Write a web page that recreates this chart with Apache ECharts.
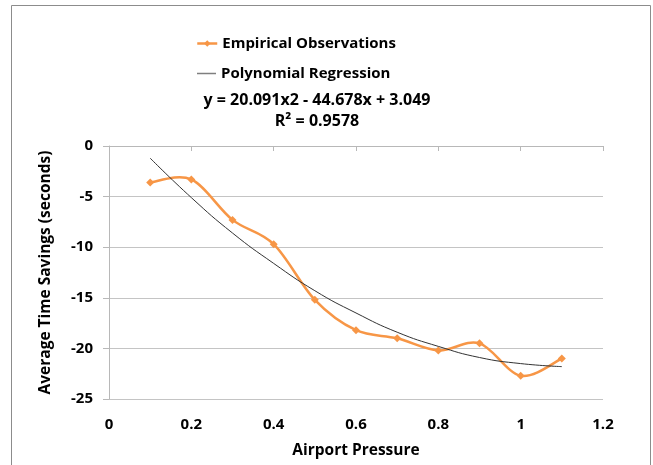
<!DOCTYPE html>
<html><head><meta charset="utf-8">
<script src="https://cdn.jsdelivr.net/npm/echarts@6/dist/echarts.min.js"></script>
<style>html,body{margin:0;padding:0;background:#fff}#c{width:653px;height:465px}</style>
</head><body><div id="c"></div>
<script>
const pressure = [0.1, 0.2, 0.3, 0.4, 0.5, 0.6, 0.7, 0.8, 0.9, 1.0, 1.1];
const observed = [-3.6, -3.3, -7.3, -9.7, -15.2, -18.2, -19.0, -20.2, -19.5, -22.7, -21.0];
const regression = [-1.2, -5.1, -8.6, -11.6, -14.3, -16.5, -18.4, -19.8, -20.9, -21.5, -21.8];
const xTicks = [0, 0.2, 0.4, 0.6, 0.8, 1, 1.2];
const yTicks = [0, -5, -10, -15, -20, -25];
const FONT = '"Open Sans", "Noto Sans", sans-serif';
const ORANGE = '#F79646';

function splinePath(pts) {
  let d = 'M' + pts[0][0] + ',' + pts[0][1];
  for (let i = 0; i < pts.length - 1; i++) {
    const p0 = pts[i - 1] || pts[i], p1 = pts[i], p2 = pts[i + 1], p3 = pts[i + 2] || pts[i + 1];
    const c1 = [p1[0] + (p2[0] - p0[0]) / 6, p1[1] + (p2[1] - p0[1]) / 6];
    const c2 = [p2[0] - (p3[0] - p1[0]) / 6, p2[1] - (p3[1] - p1[1]) / 6];
    d += 'C' + c1[0] + ',' + c1[1] + ' ' + c2[0] + ',' + c2[1] + ' ' + p2[0] + ',' + p2[1];
  }
  return d;
}

const legendText = {fontFamily: FONT, fontWeight: 'bold', fontSize: 15, color: '#000'};
const chart = echarts.init(document.getElementById('c'));
chart.setOption({
  animation: false,
  backgroundColor: '#fff',
  grid: {left: 109, right: 50, top: 146, bottom: 66, containLabel: false},
  legend: [{
    orient: 'vertical', left: 191, top: 31, itemWidth: 20, itemHeight: 8,
    textStyle: legendText,
    data: [{name: 'Empirical Observations', lineStyle: {opacity: 1, color: ORANGE, width: 2.5}}]
  }, {
    orient: 'vertical', left: 192, top: 61, itemWidth: 19, itemHeight: 1.5,
    textStyle: legendText,
    data: [{name: 'Polynomial Regression', icon: 'rect', itemStyle: {color: '#7f7f7f'}}]
  }],
  xAxis: [{
    type: 'value', min: 0, max: 1.2, interval: 0.2, position: 'bottom',
    axisLine: {show: false}, axisTick: {show: false}, splitLine: {show: false},
    axisLabel: {margin: 18, fontFamily: FONT, fontWeight: 'bold', fontSize: 15, color: '#000',
      formatter: v => { const i = xTicks.findIndex(t => Math.abs(t - v) < 1e-6); return i >= 0 ? String(xTicks[i]) : ''; }},
    name: 'Airport Pressure', nameLocation: 'middle', nameGap: 44,
    nameTextStyle: {fontFamily: FONT, fontWeight: 'bold', fontSize: 15.5, color: '#000'}
  }, {
    type: 'value', min: 0, max: 1.2, interval: 0.2, position: 'top',
    axisLine: {show: true, lineStyle: {color: '#b8b8b8', width: 1}},
    axisTick: {show: true, inside: true, length: 5, lineStyle: {color: '#b8b8b8'}},
    axisLabel: {show: false}, splitLine: {show: false}
  }],
  yAxis: {
    type: 'value', min: -25, max: 0, interval: 5,
    axisLine: {show: true, lineStyle: {color: '#b8b8b8', width: 1}},
    axisTick: {show: true, length: 6, lineStyle: {color: '#b8b8b8'}},
    splitLine: {show: true, lineStyle: {color: '#c4c4c4', width: 1}},
    axisLabel: {margin: 16, fontFamily: FONT, fontWeight: 'bold', fontSize: 15, color: '#000',
      formatter: v => { const i = yTicks.findIndex(t => Math.abs(t - v) < 1e-6); return i >= 0 ? String(yTicks[i]) : ''; }},
    name: 'Average Time Savings (seconds)', nameLocation: 'middle', nameGap: 55, nameRotate: 90,
    nameTextStyle: {fontFamily: FONT, fontWeight: 'bold', fontSize: 15.5, color: '#000'}
  },
  series: [{
    name: 'Empirical Curve', type: 'custom', xAxisIndex: 0, z: 2,
    data: pressure.map((x, i) => [x, observed[i]]),
    encode: {x: 0, y: 1},
    renderItem: (params, api) => {
      if (params.dataIndex !== 0) return null;
      const pts = pressure.map((x, i) => api.coord([x, observed[i]]));
      return {type: 'path', shape: {pathData: splinePath(pts)},
        style: {fill: null, stroke: ORANGE, lineWidth: 2.5, lineJoin: 'round'}};
    }
  }, {
    name: 'Empirical Observations', type: 'line', xAxisIndex: 0,
    data: pressure.map((x, i) => [x, observed[i]]),
    symbol: 'diamond', symbolSize: 8, showSymbol: true,
    lineStyle: {color: ORANGE, width: 2.5, opacity: 0}, itemStyle: {color: ORANGE}, z: 3
  }, {
    name: 'Polynomial Regression', type: 'line', xAxisIndex: 0,
    data: pressure.map((x, i) => [x, regression[i]]),
    smooth: 0.5, symbol: 'none',
    lineStyle: {color: '#333', width: 1}, itemStyle: {color: '#333'}, z: 4
  }],
  graphic: [
    {type: 'rect', shape: {x: 11.5, y: 5.5, width: 639, height: 470}, style: {fill: 'none', stroke: '#8c8c8c', lineWidth: 1}, silent: true},
    {type: 'text', x: 317, y: 100, style: {text: 'y = 20.091x2 - 44.678x + 3.049', font: 'bold 16px ' + FONT, fill: '#000', align: 'center', verticalAlign: 'middle'}},
    {type: 'text', x: 317, y: 121, style: {text: 'R² = 0.9578', font: 'bold 16px ' + FONT, fill: '#000', align: 'center', verticalAlign: 'middle'}}
  ]
});
</script></body></html>
